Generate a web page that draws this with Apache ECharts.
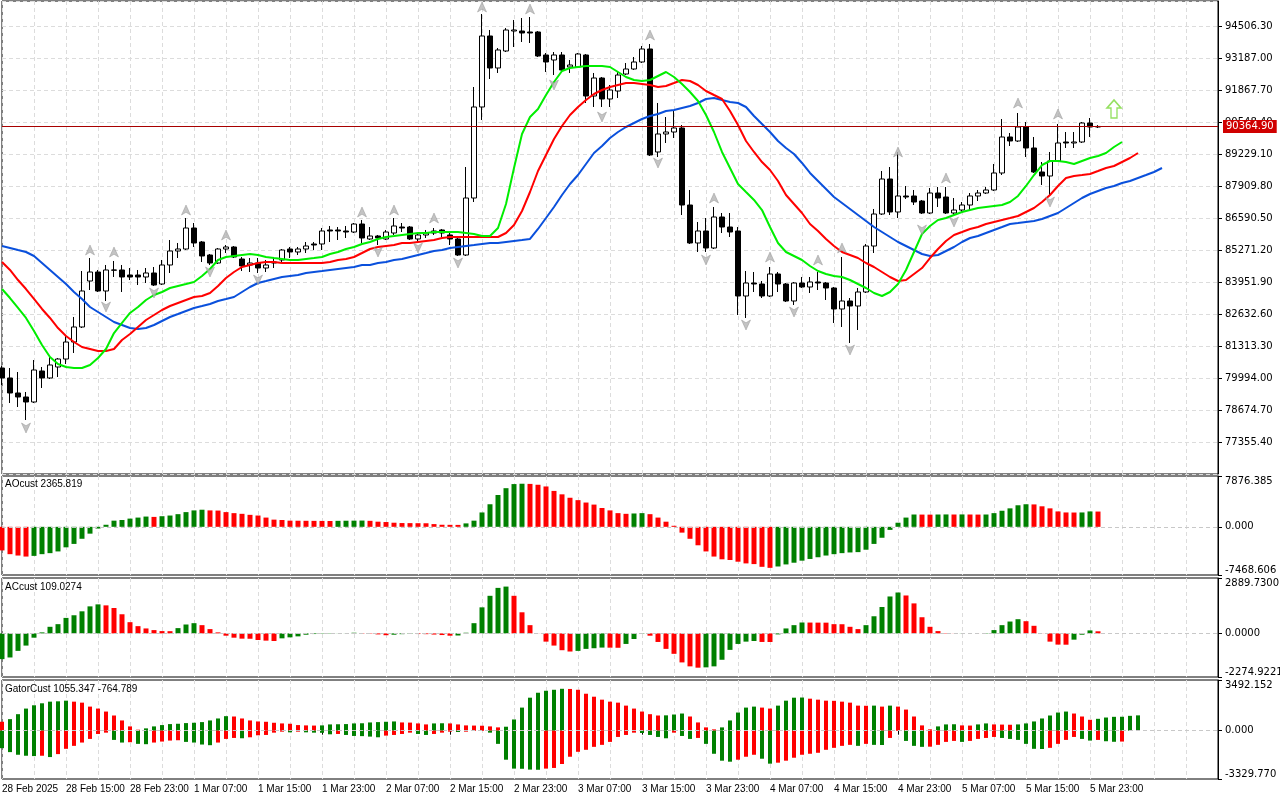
<!DOCTYPE html>
<html><head><meta charset="utf-8">
<script src="https://cdn.jsdelivr.net/npm/echarts@6/dist/echarts.min.js"></script>
<style>html,body{margin:0;padding:0;background:#fff}#c{width:1280px;height:800px}</style>
</head><body><div id="c"></div>
<script>
// ---------- DATA ----------
const xTickLabels = ['28 Feb 2025','28 Feb 15:00','28 Feb 23:00','1 Mar 07:00','1 Mar 15:00','1 Mar 23:00','2 Mar 07:00','2 Mar 15:00','2 Mar 23:00','3 Mar 07:00','3 Mar 15:00','3 Mar 23:00','4 Mar 07:00','4 Mar 15:00','4 Mar 23:00','5 Mar 07:00','5 Mar 15:00','5 Mar 23:00'];

const open = [80406,79994,79376,79211,79005,80283,79994,80448,80777,81478,82097,83993,84364,83581,84447,84447,84240,84240,84158,84323,83869,84653,85230,85312,86178,85601,85065,84735,85312,85395,84900,84653,84735,84529,84735,84859,85312,85189,85312,85519,85519,86096,86096,86055,86013,86343,85725,85848,85725,85972,86219,86219,85725,85890,85972,86096,85890,85725,85065,87415,91167,94094,92775,93476,94300,94300,94259,94259,93311,93105,93311,92816,92816,93311,91620,92362,91497,91826,92527,92733,93022,93558,89312,90054,90136,90301,87126,85560,86055,85354,86632,86219,86055,83375,83911,83869,83375,84282,83869,83169,83911,83746,83952,83911,83705,82839,83169,82962,83540,85436,86755,88198,86838,87498,87498,87291,86797,87621,87456,86797,86920,87126,87498,87621,87745,88446,89930,89765,90342,89477,88487,88322,88941,89724,89683,89724,90507,90342];
const high = [80489,80406,80241,79417,80736,80448,80860,80819,81767,82509,84405,84941,84447,84653,84818,84653,84529,84447,84529,84570,84859,85683,85560,86590,86384,85642,85106,85354,85477,85436,84983,84941,84941,84859,84983,85312,85395,85395,85601,85601,86178,86261,86219,86261,86384,86508,86219,85890,86096,86590,86384,86261,85972,86096,86178,86137,85972,85766,88693,91991,95001,94341,93599,94424,94754,94836,94877,94300,93393,93434,93434,93105,93393,93352,92569,92404,92074,92610,92981,93228,93682,93764,91332,90754,91043,90425,87745,86426,86590,87044,86797,86797,86219,84405,84364,83993,84570,84364,83911,83952,84158,84158,84364,83952,83746,84983,83292,83705,85519,86962,88528,88693,89312,87910,87745,87333,87827,87869,87869,87415,87250,87621,87745,87869,88817,90672,90095,90919,90548,89930,88899,89312,90466,90136,90136,90548,90713,90420];
const low = [79705,78963,78798,78262,78963,79582,79953,80035,80571,81025,82055,83622,83540,83169,84158,83540,84034,83828,83911,83787,83828,84323,84941,85271,85395,84776,84653,84694,85147,84941,84405,84364,84323,84364,84529,84776,84941,85065,85147,85271,85271,85601,85683,85766,85972,85560,85683,85477,85683,85890,86013,85683,85560,85766,85890,85807,85477,85024,85024,87250,90631,92321,92569,93434,93640,93847,93805,93228,92610,92486,92610,92569,92775,91332,91167,91167,91167,91538,92486,92692,92981,89147,89105,89683,89889,86714,85519,85189,85189,85312,85972,85807,82591,82468,83540,83292,83334,83540,83127,83004,83705,83498,83622,83210,82262,82097,81437,81973,83498,85147,86714,86714,86590,87374,87126,86755,86755,87044,86755,86714,86797,86920,87291,87580,87704,88363,89559,89724,89105,88446,87951,87539,88899,89477,89477,89683,89930,90300];
const close = [79994,79376,79211,79005,80324,79994,80530,80777,81478,82097,83581,84364,83581,84447,84440,84158,84158,84158,84323,83828,84653,85230,85312,86178,85560,85024,84735,85312,85395,84983,84612,84735,84529,84653,84776,85271,85189,85312,85436,85477,86055,86055,86055,86013,86343,85766,85848,85766,86013,86261,86178,85725,85890,85972,86055,85972,85725,85065,87415,91167,94094,92775,93517,94341,94341,94218,94218,93269,93022,93311,92692,92898,93352,91620,92362,91497,91868,92486,92733,93022,93558,89188,90054,90136,90301,87126,85560,86055,85354,86632,86219,86013,83375,83911,83869,83375,84282,83869,83169,83911,83746,83952,83911,83705,82839,83169,82962,83540,85436,86755,88198,86838,87498,87456,87250,86797,87621,87415,86797,86920,87126,87498,87621,87745,88446,89930,89765,90342,89477,88487,88322,88941,89683,89683,89724,90507,90342,90364.9];

const jaw = [85436,85354,85271,85189,85024,84735,84447,84158,83869,83540,83251,82921,82715,82509,82303,82179,82055,82014,82055,82179,82344,82509,82632,82756,82880,82962,83045,83169,83251,83334,83540,83746,83911,83993,84076,84158,84199,84240,84323,84364,84405,84447,84488,84529,84570,84653,84653,84735,84776,84859,84900,84983,85065,85147,85230,85271,85354,85395,85436,85477,85519,85560,85560,85601,85642,85683,85725,86137,86590,87044,87539,87992,88363,88817,89270,89559,89889,90136,90342,90507,90672,90796,90878,91002,91043,91126,91208,91332,91497,91538,91455,91373,91332,91167,90796,90466,90136,89765,89477,89229,88858,88446,88116,87786,87456,87209,86962,86714,86467,86219,86013,85807,85601,85436,85271,85106,85024,85065,85230,85395,85601,85766,85848,85972,86096,86219,86343,86384,86426,86467,86549,86673,86797,87003,87209,87415,87580,87704,87827,87910,88034,88116,88240,88363,88487,88652];
const teeth = [84776,84447,84034,83663,83251,82839,82468,82055,81726,81478,81272,81190,81107,81107,81190,81561,81808,82097,82385,82591,82798,82962,83086,83210,83334,83375,83498,83787,84117,84364,84570,84653,84735,84776,84776,84735,84735,84735,84735,84735,84735,84776,84859,84900,84983,85147,85312,85395,85436,85477,85560,85560,85601,85642,85683,85766,85807,85807,85807,85807,85807,85807,85807,85972,86302,86879,87662,88528,89188,89848,90384,90837,91167,91455,91703,91868,91991,92074,92156,92156,92115,92074,91991,92033,92156,92280,92239,92074,91826,91661,91497,91002,90425,89765,89312,88899,88569,88116,87539,87168,86797,86343,86055,85725,85436,85189,85065,84941,84735,84570,84364,84158,83993,84034,84282,84529,84941,85312,85642,85890,86013,86137,86219,86343,86426,86508,86590,86673,86838,87003,87250,87539,87910,88240,88322,88363,88405,88528,88652,88734,88899,89064,89270];
const lips = [83663,83292,82880,82468,81932,81355,80860,80571,80448,80406,80406,80530,80819,81190,81849,82262,82674,82921,83210,83416,83540,83705,83787,83869,83952,84199,84488,84859,84983,85024,85065,85106,85065,84983,84941,84900,84859,84859,84900,84941,84983,85106,85189,85312,85395,85519,85601,85725,85807,85848,85890,85931,85972,85972,86013,86013,86013,86013,85972,85931,85848,85848,86178,87168,88652,90054,90754,91085,91661,92197,92651,92775,92816,92857,92857,92857,92816,92610,92404,92280,92239,92280,92445,92610,92404,92115,91785,91414,90837,90136,89312,88652,87992,87662,87333,86920,86219,85560,85189,85024,84859,84612,84405,84282,84199,84158,84034,83869,83705,83498,83375,83540,83869,84447,85189,85931,86261,86508,86590,86714,86838,86920,87003,87044,87085,87126,87250,87498,87910,88363,88775,88941,88941,88899,88817,88941,89064,89147,89270,89518,89724];

const fractalUpIdx   = [11,14,23,28,45,49,54,60,66,81,89,96,102,105,112,118,127,132];
const fractalUpPrice = [85271,85189,86920,85890,86838,86920,86590,95289,95207,94135,87415,84983,84859,85354,89312,88240,91332,90878];
const fractalDnIdx   = [3,13,19,26,32,47,52,57,69,75,82,88,93,99,106,115,119,131];
const fractalDnPrice = [77933,82921,83498,84364,84034,85189,85354,84735,92074,90754,88858,84859,82179,82715,81148,86096,86426,87250];
const signalIdx = [139];
const signalPrice = [91084];
const lastPrice = 90364.90;

const ao = [-3657,-4240,-4452,-4611,-4505,-4240,-4081,-3816,-3180,-2650,-1855,-1060,-265,318,954,1060,1272,1431,1590,1537,1643,1749,1961,2279,2544,2650,2544,2518,2279,2120,2014,1855,1749,1431,1113,1060,954,943,933,922,912,901,928,943,954,970,928,795,742,636,583,572,562,551,424,318,307,297,530,954,2226,3498,4929,5989,6625,6678,6652,6519,6254,5565,5035,4505,4134,3763,3445,2915,2544,2120,2014,2067,2120,1961,1431,795,159,-901,-1855,-2862,-3816,-4611,-5035,-5141,-5406,-5671,-5777,-6201,-6360,-6148,-5830,-5565,-5247,-4982,-4717,-4452,-4240,-4081,-3975,-3922,-3551,-2650,-1696,-477,636,1431,1908,1897,1887,1908,1919,1908,1919,1908,1897,1908,2120,2491,2862,3339,3498,3472,3180,2862,2385,2226,2215,2226,2385,2365.819];
const ac = [-1342,-1256,-912,-636,-224,52,344,482,808,946,1152,1410,1514,1462,1324,998,585,378,258,172,120,115,275,464,533,430,224,52,-120,-224,-275,-280,-344,-378,-396,-258,-206,-155,-69,-34,-17,-15,-5,5,34,17,-17,-52,-95,-69,-40,-30,-34,-40,-60,-86,-120,-110,34,533,1359,1961,2374,2442,1961,1101,430,-5,-430,-636,-877,-946,-912,-808,-774,-740,-745,-750,-550,-292,-17,-120,-447,-808,-1066,-1514,-1720,-1789,-1772,-1720,-1376,-860,-550,-430,-396,-447,-450,-52,258,430,568,565,562,560,482,478,344,224,430,894,1376,1926,2133,1978,1565,843,344,120,17,5,8,3,2,17,172,430,619,740,636,396,-5,-430,-585,-590,-327,-69,155,109.0274];
const gatorUp = [614,796,1137,1523,1750,1887,2000,2023,2068,2000,1932,1659,1523,1318,1046,705,295,68,159,295,386,455,477,523,546,591,705,841,1000,977,841,705,636,614,546,500,477,386,364,352,364,432,443,455,500,511,568,591,614,636,568,557,500,432,500,511,500,432,364,352,341,295,227,273,773,1591,2273,2614,2750,2819,2887,2875,2819,2546,2341,2137,2000,1932,1727,1523,1318,1137,1046,1057,1114,1182,977,568,227,91,227,705,1250,1591,1659,1591,1523,1727,2068,2273,2284,2205,2137,2068,2057,2000,1932,1727,1716,1727,1659,1727,1659,1455,977,364,91,295,432,443,364,352,432,500,432,420,409,432,500,636,841,1046,1250,1318,1182,977,750,818,907,955,960,1023,1055.347];
const gatorDn = [-1205,-1477,-1659,-1727,-1750,-1727,-1818,-1614,-1250,-1046,-818,-568,-227,-136,-636,-818,-796,-909,-932,-818,-750,-682,-659,-773,-818,-955,-1000,-818,-568,-500,-523,-455,-318,-295,-136,-68,-114,-68,-114,-136,-148,-250,-227,-295,-364,-375,-409,-455,-341,-295,-227,-136,-227,-295,-227,-136,-68,-91,-68,-23,-18,-136,-909,-2000,-2614,-2625,-2682,-2694,-2614,-2568,-2296,-1796,-1455,-1318,-1114,-977,-773,-432,-295,-136,-159,-295,-432,-523,-136,-364,-568,-500,-909,-1591,-2068,-2137,-2000,-1796,-1659,-1932,-2273,-2205,-2068,-1864,-1659,-1591,-1523,-1318,-1182,-1046,-977,-1046,-909,-977,-989,-500,-23,-705,-1046,-1114,-1102,-977,-773,-705,-773,-705,-568,-500,-432,-500,-568,-636,-909,-1250,-1262,-1182,-909,-636,-432,-568,-682,-637,-728,-765,-750];

const aoRange = [-7468.606, 7876.385];
const acRange = [-2274.9221, 2889.7300];
const gatorRange = [-3329.770, 3492.152];
const priceMin = 76036.10, priceMax = 95536.90, priceStep = 1319.30;

// ---------- CHART ----------
const SLOTS = 153;
const cats = [];
for (let i = 0; i < SLOTS; i++) cats.push(String(i));
const GREEN = '#008000', RED = '#ff0000';
const XF = 'Liberation Sans', YF = 'DejaVu Sans';
const LABEL_STEP = 8;

function risingColors(vals, first, useAbs) {
  return vals.map((v, i) => {
    if (i === 0) return first;
    const a = useAbs ? Math.abs(v) : v, b = useAbs ? Math.abs(vals[i - 1]) : vals[i - 1];
    return a > b ? GREEN : RED;
  });
}
function histData(vals, first, useAbs) {
  const c = risingColors(vals, first, useAbs);
  return vals.map((v, i) => ({ value: v, itemStyle: { color: c[i] } }));
}
const isLabelSlot = (i) => i % LABEL_STEP === 0 && i / LABEL_STEP < xTickLabels.length;

function dashGrid() { return { show: true, interval: 3, lineStyle: { color: '#dcdcdc', type: [4, 3], width: 1 } }; }
function xAxisFor(k) {
  const bottom = k === 3;
  return {
    type: 'category', gridIndex: k, data: cats, boundaryGap: false,
    axisLine: { show: false },
    axisTick: { show: bottom, interval: (i) => isLabelSlot(i), length: 4, lineStyle: { color: '#000' } },
    axisLabel: {
      show: bottom, interval: (i) => isLabelSlot(i), align: 'left', margin: 5, fontSize: 10, fontFamily: XF, color: '#000',
      formatter: (v) => { const i = Number(v); return isLabelSlot(i) ? xTickLabels[i / LABEL_STEP] : ''; }
    },
    splitLine: dashGrid()
  };
}
function subY(k, range, dec) {
  const vals = [range[0], 0, range[1]];
  return {
    type: 'value', gridIndex: k, position: 'right', min: range[0], max: range[1],
    axisLine: { show: true, lineStyle: { color: '#000' } },
    axisTick: { show: true, length: 4, lineStyle: { color: '#000' }, customValues: vals.slice() },
    axisLabel: { customValues: vals.slice(), formatter: (v) => Number(v).toFixed(dec), fontSize: 10, fontFamily: YF, color: '#000', margin: 7,
      verticalAlignMaxLabel: 'top', verticalAlignMinLabel: 'bottom' },
    splitLine: { show: false }
  };
}
function zeroLine() {
  return { silent: true, symbol: ['none', 'none'], label: { show: false },
    lineStyle: { color: '#c8c8c8', type: [4, 3], width: 1 }, data: [{ yAxis: 0 }] };
}

function gridAt(top, height) {
  return { left: 2, right: 62, top: top, height: height, show: true, borderColor: '#000', borderWidth: 1, backgroundColor: '#fff', outerBoundsMode: 'none', containLabel: false };
}
const titleStyle = { fontSize: 10, fontWeight: 'normal', color: '#000', fontFamily: XF };

const option = {
  animation: false,
  backgroundColor: '#ffffff',
  title: [
    { text: 'AOcust 2365.819', left: 5, top: 479, padding: 0, textStyle: titleStyle },
    { text: 'ACcust 109.0274', left: 5, top: 582, padding: 0, textStyle: titleStyle },
    { text: 'GatorCust 1055.347 -764.789', left: 5, top: 684, padding: 0, textStyle: titleStyle }
  ],
  grid: [gridAt(1, 473), gridAt(476, 99), gridAt(578, 99), gridAt(680, 99)],
  xAxis: [xAxisFor(0), xAxisFor(1), xAxisFor(2), xAxisFor(3)],
  yAxis: [
    { type: 'value', gridIndex: 0, position: 'right', min: priceMin, max: priceMax, interval: priceStep,
      axisLine: { show: true, lineStyle: { color: '#000' } },
      axisTick: { show: true, length: 4, lineStyle: { color: '#000' } },
      axisLabel: { showMinLabel: false, showMaxLabel: false, formatter: (v) => Number(v).toFixed(2), fontSize: 10, fontFamily: YF, color: '#000', margin: 7 },
      splitLine: { show: true, lineStyle: { color: '#dcdcdc', type: [4, 3], width: 1 } } },
    subY(1, aoRange, 3),
    subY(2, acRange, 4),
    subY(3, gatorRange, 3)
  ],
  series: [
    { type: 'candlestick', xAxisIndex: 0, yAxisIndex: 0, barWidth: 5, z: 2,
      data: open.map((o, i) => [o, close[i], low[i], high[i]]),
      itemStyle: { color: '#ffffff', color0: '#000000', borderColor: '#000000', borderColor0: '#000000', borderWidth: 1 },
      markLine: { silent: true, symbol: ['none', 'none'], animation: false,
        lineStyle: { color: '#a80000', type: 'solid', width: 1 },
        label: { show: true, position: 'end', distance: 5, formatter: lastPrice.toFixed(2), backgroundColor: '#d00000', color: '#fff',
          fontSize: 10, fontFamily: YF, padding: [2, 3, 1, 3] },
        data: [{ yAxis: lastPrice }] } },
    { type: 'line', name: 'jaw', xAxisIndex: 0, yAxisIndex: 0, data: jaw, showSymbol: false, symbol: 'none', z: 3,
      lineStyle: { color: '#0a50dc', width: 2 } },
    { type: 'line', name: 'teeth', xAxisIndex: 0, yAxisIndex: 0, data: teeth, showSymbol: false, symbol: 'none', z: 3,
      lineStyle: { color: '#ff0000', width: 2 } },
    { type: 'line', name: 'lips', xAxisIndex: 0, yAxisIndex: 0, data: lips, showSymbol: false, symbol: 'none', z: 3,
      lineStyle: { color: '#00ee00', width: 2 } },
    { type: 'scatter', xAxisIndex: 0, yAxisIndex: 0, z: 4, symbol: 'path://M5,0 L10,11 L5,8 L0,11 Z', symbolSize: [9, 10],
      itemStyle: { color: '#b4b4b4', borderColor: '#888', borderWidth: 0.5 },
      data: fractalUpIdx.map((x, k) => [x, fractalUpPrice[k]]) },
    { type: 'scatter', xAxisIndex: 0, yAxisIndex: 0, z: 4, symbol: 'path://M0,0 L5,3 L10,0 L5,11 Z', symbolSize: [9, 10],
      itemStyle: { color: '#b4b4b4', borderColor: '#888', borderWidth: 0.5 },
      data: fractalDnIdx.map((x, k) => [x, fractalDnPrice[k]]) },
    { type: 'scatter', xAxisIndex: 0, yAxisIndex: 0, z: 4, symbol: 'path://M7,0 L14,8 L10,8 L10,18 L4,18 L4,8 L0,8 Z', symbolSize: [14, 18],
      itemStyle: { color: '#ffffff', borderColor: '#7ad83a', borderWidth: 1.5 },
      data: signalIdx.map((x, k) => [x, signalPrice[k]]) },
    { type: 'bar', xAxisIndex: 1, yAxisIndex: 1, barWidth: 5, data: histData(ao, RED, false), markLine: zeroLine() },
    { type: 'bar', xAxisIndex: 2, yAxisIndex: 2, barWidth: 5, data: histData(ac, GREEN, false), markLine: zeroLine() },
    { type: 'bar', xAxisIndex: 3, yAxisIndex: 3, barWidth: 4, stack: 'gator', data: histData(gatorUp, RED, false), markLine: zeroLine() },
    { type: 'bar', xAxisIndex: 3, yAxisIndex: 3, barWidth: 4, stack: 'gator', data: histData(gatorDn, GREEN, true) }
  ]
};
const chart = echarts.init(document.getElementById('c'));
chart.setOption(option);
</script>
</body></html>
